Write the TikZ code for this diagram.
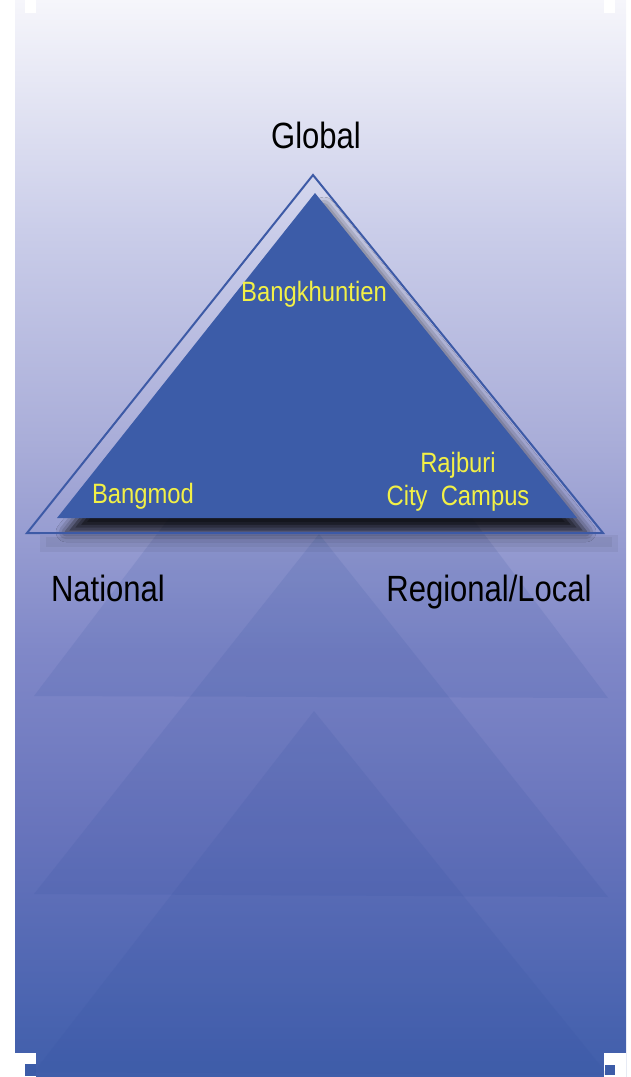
\documentclass[tikz,border=0pt]{standalone}
\usepackage{fontspec}
\setmainfont{Liberation Sans}[FakeStretch=0.85]
\usetikzlibrary{shadows.blur}

\definecolor{bgtop}{RGB}{246,246,251}
\definecolor{bgc1}{RGB}{202,205,233}
\definecolor{bgc2}{RGB}{168,172,216}
\definecolor{bgc3}{RGB}{128,136,200}
\definecolor{bgc4}{RGB}{104,116,188}
\definecolor{bgc5}{RGB}{74,100,176}
\definecolor{bgbot}{RGB}{64,94,170}
\definecolor{innerblue}{RGB}{60,92,168}
\definecolor{lineblue}{RGB}{61,90,166}
\definecolor{ghostblue}{RGB}{50,80,160}
\definecolor{campusyellow}{RGB}{242,240,70}

\pgfdeclareverticalshading{backdrop}{100bp}{color(0bp)=(bgbot); color(25bp)=(bgbot);
  color(28.1bp)=(bgc5); color(36.5bp)=(bgc4); color(44.8bp)=(bgc3);
  color(54.1bp)=(bgc2); color(64.3bp)=(bgc1); color(75bp)=(bgtop); color(100bp)=(bgtop)}

\begin{document}
\begin{tikzpicture}[x=1pt,y=-1pt,
    level label/.style={anchor=base,font=\fontsize{36.5}{40}\selectfont},
    campus label/.style={anchor=base,text=campusyellow,font=\fontsize{28}{33}\selectfont},
    ghost/.style={fill=ghostblue,fill opacity=0.13},
    smear/.style={fill=black,fill opacity=0.05}]

    \useasboundingbox (0,0) rectangle (630,1077);
    \shade[shading=backdrop] (15,0) rectangle (626,1077);

    % small notches at the corners
    \fill[white] (25,0) rectangle (36,13);
    \fill[white] (604,0) rectangle (615,13);
    \fill[white] (15,1053) rectangle (36,1077);
    \fill[white] (604,1053) rectangle (626,1077);
    \fill[innerblue] (25,1064) rectangle (36,1076);
    \fill[innerblue] (605,1065) rectangle (615,1075);

    % faded pyramid steps
    \fill[ghost] (321,318) -- (34,696) -- (608,698) -- cycle;
    \fill[ghost] (319,534) -- (34,894) -- (608,897) -- cycle;
    \fill[ghost] (314,711) -- (34,1072) -- (608,1075) -- cycle;

    % main pyramid
    \fill[smear] (40,535) rectangle (618,552);
    \fill[smear] (46,537) rectangle (612,547);
    \fill[innerblue,blur shadow={shadow xshift=9pt,shadow yshift=-14pt,shadow blur radius=10pt,shadow opacity=85}]
        (315,193) -- (57,518) -- (577,518) -- cycle;
    \draw[lineblue,line width=2pt,line join=miter] (313,175) -- (27,533) -- (603,533) -- cycle;

    \node[level label] (global) at (316,148) {Global};
    \node[level label] (national) at (108,601) {National};
    \node[level label] (regional) at (489,601) {Regional/Local};

    \node[campus label] (bkt) at (314,301) {Bangkhuntien};
    \node[campus label] (bangmod) at (143,503) {Bangmod};
    \node[campus label] (rajburi) at (458,472) {Rajburi};
    \node[campus label] (city) at (458,505) {City\ \ Campus};
\end{tikzpicture}
\end{document}
